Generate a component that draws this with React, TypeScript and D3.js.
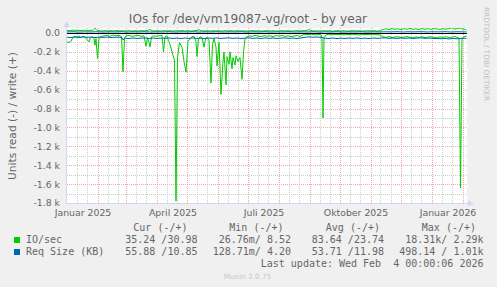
import React from "react";
import * as d3 from "d3";

const W = 497;
const H = 287;

const TITLE = "IOs for /dev/vm19087-vg/root - by year";
const Y_LABEL = "Units read (-) / write (+)";
const WATERMARK = "RRDTOOL / TOBI OETIKER";
const FOOTER = "Munin 2.0.75";
const LAST_UPDATE = "Last update: Wed Feb  4 00:00:06 2026";

const Y_TICKS = [0, -200, -400, -600, -800, -1000, -1200, -1400, -1600, -1800];
const Y_TICK_LABELS = ["0.0", "-0.2 k", "-0.4 k", "-0.6 k", "-0.8 k", "-1.0 k", "-1.2 k", "-1.4 k", "-1.6 k", "-1.8 k"];
const Y_MINOR = [-100, -300, -500, -700, -900, -1100, -1300, -1500, -1700];

const X_LABEL_MONTHS: [number, number][] = [[2025, 0], [2025, 3], [2025, 6], [2025, 9], [2026, 0]];
const X_LABEL_TEXT = ["Januar 2025", "April 2025", "Juli 2025", "Oktober 2025", "Januar 2026"];

const LEGEND_HEAD = ["Cur (-/+)", "Min (-/+)", "Avg (-/+)", "Max (-/+)"];
const SERIES_NAMES = ["IO/sec", "Req Size (KB)"];
const SERIES_COLORS = ["#00CC00", "#0066B3"];
const IO_STATS = ["35.24 /30.98", "26.76m/ 8.52", "83.64 /23.74", "18.31k/ 2.29k"];
const REQ_STATS = ["55.88 /10.85", "128.71m/ 4.20", "53.71 /11.98", "498.14 / 1.01k"];

// [day offset, value]
const ioRead: [number, number][] = [
  [0, -95], [2, -100], [4, -85], [6, -45], [8, -35], [10, -45], [12, -30], [14, -50], [16, -35], [18, -42],
  [20, -70], [22, -95], [23, -55], [25, -40], [27, -55], [28, -130], [29, -60], [30.5, -270], [32, -55], [34, -35],
  [37, -30], [40, -25], [43, -35], [46, -22], [49, -30], [52, -25], [54.5, -40], [56, -410], [57.5, -55], [59, -30],
  [62, -25], [65, -35], [68, -30], [71, -25], [74, -35], [77, -30], [79, -140], [80.5, -50], [82, -100], [83, -150],
  [84.5, -40], [86, -30], [89, -35], [92, -30], [95, -25], [96.5, -200], [98, -40], [100, -30], [101.5, -80], [103, -120],
  [105, -200], [107.5, -290], [109, -1780], [110.5, -260], [112.5, -100], [115, -150], [117, -300], [119, -415], [121, -90], [123, -60],
  [125, -40], [127, -35], [129, -90], [130, -250], [131.5, -70], [133, -40], [135, -50], [137, -150], [138.5, -60], [140, -45],
  [142, -80], [144, -530], [145.5, -120], [147, -60], [149, -150], [150, -350], [152, -100], [154, -650], [156, -300], [157, -200],
  [159, -550], [160, -250], [162, -330], [163, -200], [165, -380], [166, -260], [168, -340], [169, -240], [171, -300], [173, -260],
  [174, -380], [175, -490], [176.5, -200], [178, -60], [180, -40], [182, -30], [185, -35], [188, -26], [191, -32], [194, -38],
  [197, -28], [200, -34], [203, -30], [206, -38], [209, -28], [212, -33], [215, -26], [218, -35], [221, -30], [224, -38],
  [227, -32], [230, -27], [233, -36], [236, -20], [239, -14], [242, -18], [245, -12], [248, -20], [251, -15], [254, -18],
  [255, -60], [256, -900], [257, -50], [259, -18], [262, -14], [265, -20], [268, -13], [271, -18], [274, -15], [277, -20],
  [280, -14], [283, -18], [286, -12], [289, -17], [292, -20], [295, -14], [298, -18], [301, -13], [304, -19], [307, -15],
  [310, -18], [313, -20], [316, -40], [319, -46], [322, -37], [325, -50], [328, -42], [331, -39], [334, -48], [337, -43],
  [340, -37], [343, -46], [346, -51], [349, -41], [352, -47], [355, -39], [358, -48], [361, -43], [364, -40], [367, -47],
  [370, -51], [373, -42], [376, -46], [379, -39], [382, -48], [385, -44], [388, -38], [390, -45], [392, -55], [393.5, -1640],
  [395, -60], [396.5, -42], [398, -36], [399.5, -35],
];

const ioWrite: [number, number][] = [
  [0, 28], [3, 25], [6, 31], [9, 27], [12, 29], [15, 26], [18, 31], [21, 27], [24, 29], [26, 27],
  [28, 52], [30, 28], [32, 24], [35, 21], [38, 25], [41, 21], [44, 24], [47, 21], [50, 26], [53, 21],
  [56, 24], [59, 21], [62, 25], [65, 21], [68, 24], [71, 21], [74, 25], [77, 22], [80, 26], [83, 37],
  [85, 24], [88, 21], [91, 24], [94, 20], [97, 25], [100, 21], [103, 24], [106, 20], [109, 25], [112, 21],
  [115, 26], [118, 21], [121, 25], [124, 20], [127, 24], [130, 27], [132, 35], [134, 24], [137, 21], [140, 24],
  [143, 20], [146, 25], [149, 21], [152, 24], [155, 20], [158, 25], [161, 21], [164, 24], [167, 20], [170, 25],
  [173, 21], [176, 24], [179, 20], [182, 22], [185, 25], [188, 21], [191, 24], [194, 20], [197, 22], [200, 25],
  [203, 21], [206, 24], [209, 20], [212, 22], [215, 25], [218, 21], [221, 24], [224, 20], [227, 22], [230, 25],
  [233, 21], [236, 24], [239, 26], [242, 36], [244, 24], [247, 21], [250, 24], [253, 20], [256, 25], [259, 21],
  [262, 24], [265, 20], [268, 22], [271, 25], [274, 21], [277, 24], [280, 20], [283, 22], [286, 25], [289, 21],
  [292, 24], [295, 20], [298, 22], [301, 25], [304, 21], [307, 24], [310, 20], [313, 24], [316, 38], [319, 43],
  [322, 38], [325, 46], [328, 40], [331, 44], [334, 37], [337, 45], [340, 41], [343, 47], [346, 40], [349, 44],
  [352, 38], [355, 46], [358, 41], [361, 45], [364, 39], [367, 47], [370, 42], [373, 38], [376, 45], [379, 41],
  [382, 46], [385, 56], [387, 42], [390, 45], [393, 53], [395, 40], [397, 44], [399.5, 31],
];

const reqRead: [number, number][] = [
  [0, -45], [4, -48], [8, -43], [12, -47], [16, -42], [20, -46], [24, -43], [28, -48], [32, -44], [36, -47],
  [40, -43], [44, -48], [48, -45], [52, -44], [55, -50], [56, -72], [58, -55], [62, -58], [66, -53], [70, -58],
  [74, -54], [78, -52], [82, -58], [86, -53], [90, -58], [94, -54], [98, -57], [102, -52], [106, -58], [110, -54],
  [114, -59], [118, -53], [122, -57], [126, -52], [130, -58], [134, -54], [138, -59], [142, -53], [146, -57], [150, -52],
  [154, -58], [158, -54], [162, -51], [166, -57], [170, -53], [174, -58], [178, -54], [182, -51], [186, -57], [190, -53],
  [194, -58], [198, -52], [202, -57], [206, -53], [210, -58], [214, -54], [218, -51], [222, -57], [226, -53], [230, -58],
  [234, -52], [238, -45], [242, -41], [246, -45], [250, -42], [254, -46], [258, -55], [262, -58], [266, -53], [270, -59],
  [274, -54], [278, -58], [282, -53], [286, -57], [290, -52], [294, -58], [298, -54], [302, -59], [306, -53], [310, -57],
  [314, -54], [318, -51], [322, -57], [326, -53], [330, -58], [334, -52], [338, -57], [342, -53], [346, -58], [350, -54],
  [354, -51], [358, -57], [362, -53], [366, -58], [370, -58], [374, -61], [378, -57], [382, -63], [386, -58], [390, -61],
  [394, -57], [399.5, -56],
];

const reqWrite: [number, number][] = [
  [0, 11], [6, 13], [12, 10], [18, 12], [24, 11], [30, 13], [36, 10], [42, 12], [48, 11], [54, 13],
  [60, 10], [66, 12], [72, 11], [78, 13], [84, 10], [90, 12], [96, 11], [102, 13], [108, 10], [114, 12],
  [120, 11], [126, 13], [132, 10], [138, 12], [144, 11], [150, 13], [156, 10], [162, 12], [168, 11], [174, 13],
  [180, 10], [186, 12], [192, 11], [198, 13], [204, 10], [210, 12], [216, 11], [222, 13], [228, 10], [234, 12],
  [240, 11], [246, 13], [252, 10], [258, 12], [264, 11], [270, 13], [276, 10], [282, 12], [288, 11], [294, 13],
  [300, 10], [306, 12], [312, 11], [318, 13], [324, 12], [330, 14], [336, 11], [342, 13], [348, 12], [354, 14],
  [360, 11], [366, 13], [372, 12], [378, 14], [384, 11], [390, 13], [396, 12], [399.5, 11],
];

const DAY = 86400000;
const T0 = Date.UTC(2025, 0, 1, 12);
const T1 = T0 + 400 * DAY;
const dayToDate = (d: number) => new Date(T0 + d * DAY);

const PL = 67, PR = 467, PT = 28, PB = 203;

export default function App() {
  const x = d3.scaleTime().domain([new Date(T0), new Date(T1)]).range([PL, PR]);
  const y = d3.scaleLinear().domain([-1800, 53]).range([PB, PT]);
  const line = d3
    .line<[number, number]>()
    .x((p) => x(dayToDate(p[0])))
    .y((p) => y(p[1]));

  const crisp = (v: number) => Math.round(v) + 0.5;

  const monthStarts = d3.utcMonth.range(new Date(T0), new Date(T1));
  const minorDates: Date[] = [];
  d3.utcMonth.range(d3.utcMonth.floor(new Date(T0)), new Date(T1)).forEach((m) => {
    [10, 20].forEach((off) => {
      const dt = d3.utcDay.offset(m, off);
      if (dt > new Date(T0) && dt < new Date(T1)) minorDates.push(dt);
    });
  });

  const sans = "'DejaVu Sans', Verdana, sans-serif";
  const mono = "'DejaVu Sans Mono', monospace";
  const fontCol = "#666666";
  const gridCol = "#cccccc";
  const mgridCol = "#efa6a6";
  const axisCol = "#CFD6F8";

  const colEnds = [197.5, 291, 384, 483.5];
  const headEnds = [187.5, 283.5, 380, 476];

  return (
    <svg width={W} height={H} style={{ position: "absolute", left: 0, top: 0, display: "block" }}>
      <rect x={0} y={0} width={W} height={H} fill="#F0F0F0" />
      <rect x={PL} y={PT} width={PR - PL} height={PB - PT} fill="#FFFFFF" />
      <defs>
        <clipPath id="plotclip">
          <rect x={PL} y={PT} width={PR - PL + 1} height={PB - PT} />
        </clipPath>
      </defs>

      {/* minor grid */}
      {Y_MINOR.map((v) => (
        <line key={"ym" + v} x1={PL} x2={PR} y1={crisp(y(v))} y2={crisp(y(v))} stroke={gridCol} strokeDasharray="1,1" />
      ))}
      {minorDates.map((dt, i) => (
        <line key={"xm" + i} x1={crisp(x(dt))} x2={crisp(x(dt))} y1={PT} y2={PB} stroke={gridCol} strokeDasharray="1,1" />
      ))}
      {/* major grid */}
      {Y_TICKS.map((v) => (
        <line key={"yM" + v} x1={PL} x2={PR} y1={crisp(y(v))} y2={crisp(y(v))} stroke={mgridCol} strokeDasharray="1,1" />
      ))}
      {monthStarts.map((dt, i) => (
        <line key={"xM" + i} x1={crisp(x(dt))} x2={crisp(x(dt))} y1={PT} y2={PB} stroke={mgridCol} strokeDasharray="1,1" />
      ))}

      {/* data */}
      <g clipPath="url(#plotclip)" fill="none" strokeWidth={1}>
        <path d={line(ioRead) || ""} stroke={SERIES_COLORS[0]} />
        <path d={line(ioWrite) || ""} stroke={SERIES_COLORS[0]} />
        <line x1={PL} x2={PR} y1={crisp(y(0))} y2={crisp(y(0))} stroke="#000000" />
        <path d={line(reqRead) || ""} stroke={SERIES_COLORS[1]} />
        <path d={line(reqWrite) || ""} stroke={SERIES_COLORS[1]} />
      </g>

      {/* axes */}
      <line x1={PL - 0.5} x2={PL - 0.5} y1={PB} y2={PT - 1} stroke={axisCol} />
      <path d={`M${PL - 3.5},${PT - 1} L${PL + 2.5},${PT - 1} L${PL - 0.5},${PT - 7} Z`} fill={axisCol} />
      <line x1={PL - 1} x2={PR + 1} y1={PB + 0.5} y2={PB + 0.5} stroke={axisCol} />
      <path d={`M${PR + 1},${PB - 2.5} L${PR + 1},${PB + 3.5} L${PR + 7},${PB + 0.5} Z`} fill={axisCol} />

      {/* y tick labels */}
      {Y_TICKS.map((v, i) => (
        <text key={"yl" + v} x={60} y={y(v) + 3.4} textAnchor="end" fontFamily={sans} fontSize={9.33} fill={fontCol}>
          {Y_TICK_LABELS[i]}
        </text>
      ))}
      {/* x labels */}
      {X_LABEL_MONTHS.map(([yr, mo], i) => {
        const dt = new Date(Date.UTC(yr, mo, 1) + 16.5 * DAY);
        return (
          <text key={"xl" + i} x={x(dt)} y={215.5} textAnchor="middle" fontFamily={sans} fontSize={9.33} fill={fontCol}>
            {X_LABEL_TEXT[i]}
          </text>
        );
      })}

      {/* title */}
      <text x={248} y={22.5} textAnchor="middle" fontFamily={sans} fontSize={12.2} fill={fontCol}>
        {TITLE}
      </text>
      {/* y axis label */}
      <text
        transform={`translate(15.5,116) rotate(-90)`}
        textAnchor="middle"
        fontFamily={sans}
        fontSize={10.67}
        fill={fontCol}
      >
        {Y_LABEL}
      </text>
      {/* watermark */}
      <text transform={`translate(484,7) rotate(90)`} fontFamily={sans} fontSize={7.3} fill="#c0c0c0">
        {WATERMARK}
      </text>

      {/* legend */}
      {LEGEND_HEAD.map((t, i) => (
        <text key={"lh" + i} x={headEnds[i]} y={231} textAnchor="end" fontFamily={mono} fontSize={10} fill={fontCol} style={{ whiteSpace: "pre" }}>
          {t}
        </text>
      ))}
      {[IO_STATS, REQ_STATS].map((row, r) => (
        <g key={"row" + r}>
          <rect x={14} y={237 + r * 12} width={6} height={6} fill={SERIES_COLORS[r]} />
          <text x={26} y={243 + r * 12} fontFamily={mono} fontSize={10} fill={fontCol}>
            {SERIES_NAMES[r]}
          </text>
          {row.map((t, i) => (
            <text key={i} x={colEnds[i]} y={243 + r * 12} textAnchor="end" fontFamily={mono} fontSize={10} fill={fontCol} style={{ whiteSpace: "pre" }}>
              {t}
            </text>
          ))}
        </g>
      ))}
      <text x={483.5} y={267} textAnchor="end" fontFamily={mono} fontSize={10} fill={fontCol} style={{ whiteSpace: "pre" }}>
        {LAST_UPDATE}
      </text>
      <text x={247.5} y={278.5} textAnchor="middle" fontFamily={sans} fontSize={7.3} fill="#c8c8c8">
        {FOOTER}
      </text>
    </svg>
  );
}
